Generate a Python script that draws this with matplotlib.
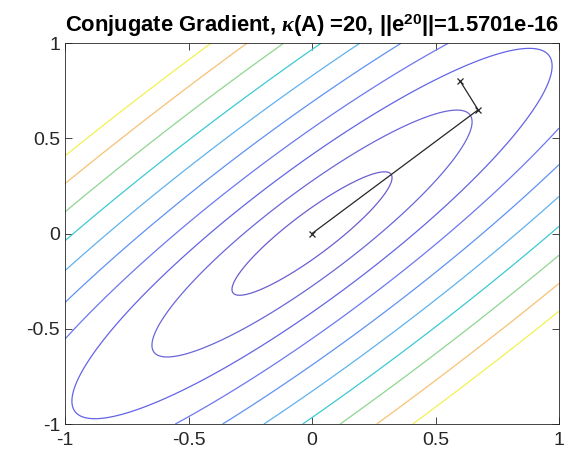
import numpy as np
import matplotlib
matplotlib.use('Agg')
import matplotlib.pyplot as plt

plt.rcParams['font.family'] = ['Liberation Sans', 'DejaVu Sans']
plt.rcParams['mathtext.fontset'] = 'custom'
plt.rcParams['mathtext.rm'] = 'Liberation Sans:bold'
plt.rcParams['mathtext.it'] = 'Liberation Serif:italic:bold'
plt.rcParams['mathtext.bf'] = 'Liberation Sans:bold'

# quadratic form, kappa(A) = 20
A = [[10.5, -9.5],
     [-9.5, 10.5]]
# contour levels of f(x) = 0.5 x'Ax
levels = [0.1, 0.4, 0.9, 1.6, 2.5, 3.6, 4.9, 6.4, 8.1, 10.0]
level_colors = ['#6a5fd0', '#6a66d8', '#6464e6', '#6c78f0', '#5f92f4',
                '#5fb2ef', '#3cc9d2', '#8fd68f', '#f6c275', '#f3f052']
# CG iterates
cg_x = [0.6, 0.6725, 0.0]
cg_y = [0.8, 0.6494, 0.0]

g = np.linspace(-1, 1, 601)
X, Y = np.meshgrid(g, g)
Z = 0.5 * (A[0][0] * X**2 + 2 * A[0][1] * X * Y + A[1][1] * Y**2)

fig = plt.figure(figsize=(5.77, 4.63), dpi=100)
ax = fig.add_axes([0.1127, 0.0842, 0.8561, 0.8228])
ax.contour(X, Y, Z, levels=levels, colors=level_colors, linewidths=0.9)
ax.plot(cg_x, cg_y, color='#262626', lw=0.9, marker='x', ms=5, mew=0.9)

ax.set_xlim(-1, 1)
ax.set_ylim(-1, 1)
ticks = [-1, -0.5, 0, 0.5, 1]
tick_labels = ['-1', '-0.5', '0', '0.5', '1']
ax.set_xticks(ticks)
ax.set_xticklabels(tick_labels)
ax.set_yticks(ticks)
ax.set_yticklabels(tick_labels)
ax.tick_params(direction='in', top=True, right=True, labelsize=14,
               color='#262626', labelcolor='#262626', length=5, width=0.6)
ax.tick_params(axis='x', pad=6)
for s in ax.spines.values():
    s.set_color('#262626')
    s.set_linewidth(0.6)

ax.set_title(r'Conjugate Gradient, $\kappa$(A) =20, ||e$^{\mathbf{20}}$||=1.5701e-16',
             fontsize=15.8, fontweight='bold', pad=8)

fig.savefig('out.png', dpi=100, facecolor='white')
